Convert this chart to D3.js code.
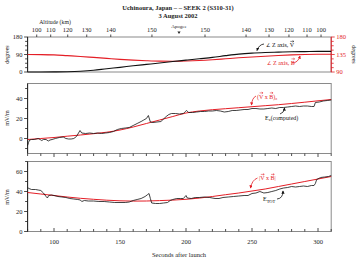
<!DOCTYPE html>
<html><head><meta charset="utf-8">
<script src="https://cdn.jsdelivr.net/npm/d3@7"></script>
<style>
body{margin:0;background:#fff}
svg{display:block}
text{font-family:"Liberation Serif","Times New Roman",serif;fill:#222}
</style>
</head><body>
<svg id="c" width="361" height="259"></svg>
<script>
// ---------- DATA ----------
const titleLines = ["Uchinoura, Japan \u2013 \u2013 SEEK 2 (S310-31)", "3 August 2002"];
const xMajorTicks = [100, 150, 200, 250, 300];
const altLabels = [100, 110, 120, 130, 140, 150, 150, 140, 130, 120, 110, 100];
const altTimes  = [86.9, 97.5, 110.4, 124.8, 143, 174.2, 214.4, 245.5, 262.9, 278, 291.7, 302.3];
const apogeeTime = 194.7;

// panel 1: angle between Z axis and V (left axis, degrees)
const angleV = [[80,0],[90,0],[100,0.5],[110,1.5],[120,4],[130,9],[140,17],[150,24],[160,32],[170,39],[180,46],[190,54],[200,61],[210,68],[220,75],[230,84],[240,92],[250,97],[260,100],[270,102],[280,104],[290,105],[300,106],[310,106]];
// panel 1: angle between Z axis and B (right axis, degrees)
const angleB = [[80,135],[90,134.8],[100,134],[110,132],[120,130],[130,127.5],[140,125],[150,122.5],[160,120.5],[170,119],[180,118],[190,117.8],[200,118.3],[210,119.5],[220,121.5],[230,124],[240,126.5],[250,128.5],[260,130.5],[270,132.5],[280,134],[290,135],[300,135.5],[310,135.8]];

// panel 2: (V x B)z and Ez(computed), mV/m
const vxbZ = [[80,-1],[90,0],[100,1],[110,2.3],[120,3.5],[130,4.8],[140,6.3],[150,8.5],[160,11.5],[170,15],[180,18.5],[190,22],[200,25.5],[210,27.5],[220,28.8],[230,29.8],[240,30.8],[250,31.8],[260,32.8],[270,33.8],[280,35],[290,36.3],[300,37.7],[310,39]];
const ezComputed = [[80,-7],[80.7,-4],[81.5,-1.5],[83,-1],[85,-1],[88,0],[89.5,-1],[90.7,-2],[92,-1],[94,-1],[95.7,-2.5],[97,-1.5],[98.5,-1],[101,0],[104,1],[107,1.5],[109,0],[111,-0.5],[113,-0.5],[115,0],[117,2],[119.7,8],[121,5.5],[124,5],[127,5.5],[130,5],[133,5.5],[136,5],[139,5.5],[142,6],[145,7],[148,9],[151,10],[154,10.5],[157,11],[160,13],[163,15],[166,17],[168,18.5],[170,20],[171.5,23],[173,16.5],[175,16],[178,16.5],[181,17],[183,19.5],[185,22],[187,24],[189,25],[192,25],[195,24.5],[198,25],[199.5,27],[200.5,28],[202,26],[205,26],[208,26.5],[211,27],[214,27],[217,27.5],[220,27.5],[223,28],[226,27.5],[229,26.5],[232,27],[235,28],[238,28],[241,28.5],[244,29],[247,29],[250,30],[253,30],[256,29.5],[259,29.5],[262,30],[265,30.5],[268,30],[271,31],[274,31],[277,31.5],[280,32],[283,32.5],[286,32],[289,32.5],[292,32.5],[295,32],[297,32],[298,36],[301,36.5],[304,37.5],[307,38],[310,38.5]];

// panel 3: |V x B| and E_TOT, mV/m
const vxbAbs = [[80,39],[90,37.5],[100,36],[110,34.5],[120,33.2],[130,32.2],[140,31.3],[150,30.7],[160,30.4],[170,30.5],[180,30.9],[190,31.4],[200,32.2],[210,33.4],[220,35],[230,36.8],[240,38.5],[250,40.5],[260,42.5],[270,45],[280,47.5],[290,50],[300,52.5],[310,55]];
const eTot = [[80,44],[81,43],[83,42],[86,42],[88,41.5],[90,41],[92,38.5],[94,35],[95,33.5],[96,36],[98,36.5],[100,36],[103,35],[106,34.5],[109,34],[112,33],[115,32.5],[118,32],[120,31.5],[121,30],[123,31],[126,30.5],[130,30.5],[134,30],[138,30],[142,29.5],[146,29],[150,29],[154,29],[157,29.5],[160,31],[163,32],[166,33],[169,35],[171,37],[172,38],[173,33],[174,28.5],[177,28],[180,28],[183,28.5],[186,29],[188,31],[190,32],[193,33],[196,33],[198,33],[200,36],[201,33.5],[204,33],[207,34],[210,34],[214,34.5],[218,34],[222,33],[225,33],[228,34],[232,34.5],[236,35],[240,35.5],[244,36],[247,36],[250,38],[253,38.5],[256,40],[259,38.5],[262,39],[265,40],[268,41],[271,42.5],[274,43.5],[277,44],[280,45],[283,44.5],[286,45],[289,45.5],[292,45],[295,46],[297,46],[298,48],[299,52],[302,54],[305,54.5],[308,55],[310,56]];

// ---------- CHART ----------
const RED = "#e41e26";
const svg = d3.select("#c");
const x = d3.scaleLinear().domain([80, 310]).range([27.6, 331.2]);
const L = x.range()[0], R = x.range()[1];

const yA  = d3.scaleLinear().domain([0, 180]).range([72, 37]);
const yAr = d3.scaleLinear().domain([90, 180]).range([72, 37]);
const y2  = d3.scaleLinear().domain([-15, 55]).range([153.5, 83.5]);
const y3  = d3.scaleLinear().domain([0, 70]).range([231.5, 161.5]);

svg.selectAll("text.title").data(titleLines).join("text")
  .attr("x", 178).attr("y", (d, i) => 10 + i * 7.5)
  .attr("text-anchor", "middle").attr("font-size", 6.5).attr("font-weight", "bold").text(d => d);

function frame(ys) {
  const [b, t] = ys.range();
  svg.append("rect").attr("x", L).attr("y", t).attr("width", R - L).attr("height", b - t)
    .attr("fill", "none").attr("stroke", "#8a8a8a").attr("stroke-width", 1);
}
function leftAxis(ys, major, minorStep) {
  const g = svg.append("g").attr("transform", `translate(${L},0)`);
  const d = ys.domain();
  const minors = d3.range(Math.ceil(d[0] / minorStep) * minorStep, d[1] + 0.001, minorStep);
  g.selectAll("line.mi").data(minors).join("line")
    .attr("x1", 0).attr("x2", d => major.includes(d) ? -3.5 : -2.5)
    .attr("y1", d => ys(d)).attr("y2", d => ys(d)).attr("stroke", "#222").attr("stroke-width", 0.8);
  g.selectAll("text").data(major).join("text")
    .attr("x", -5).attr("y", d => ys(d) + 2.2).attr("text-anchor", "end")
    .attr("font-size", 6.5).text(d => d);
  g.append("line").attr("y1", ys.range()[0]).attr("y2", ys.range()[1]).attr("stroke", "#222").attr("stroke-width", 1);
}
function bottomTicks(yb, dir) {
  const ticks = d3.range(80, 311, 10);
  svg.append("g").selectAll("line").data(ticks).join("line")
    .attr("x1", d => x(d)).attr("x2", d => x(d))
    .attr("y1", yb).attr("y2", d => yb + dir * (d % 50 === 0 ? 3.5 : 2.5))
    .attr("stroke", "#222").attr("stroke-width", 0.8);
}
function yLabel(text, xPos, yPos, rot, color) {
  svg.append("text").attr("transform", `translate(${xPos},${yPos}) rotate(${rot})`)
    .attr("text-anchor", "middle").attr("font-size", 6).style("fill", color || "#222").text(text);
}
const lineSmooth = (ys) => d3.line().x(d => x(d[0])).y(d => ys(d[1])).curve(d3.curveMonotoneX);
const lineRaw = (ys) => d3.line().x(d => x(d[0])).y(d => ys(d[1]));

// ----- Panel 1 -----
frame(yA);
leftAxis(yA, [0, 90, 180], 22.5);
{
  const g = svg.append("g").attr("transform", `translate(${R},0)`);
  const minors = d3.range(90, 180.01, 11.25);
  g.selectAll("line").data(minors).join("line")
    .attr("x1", 0).attr("x2", d => [90, 135, 180].includes(d) ? 3.5 : 2.5)
    .attr("y1", d => yAr(d)).attr("y2", d => yAr(d)).attr("stroke", RED).attr("stroke-width", 0.8);
  g.selectAll("text").data([90, 135, 180]).join("text")
    .attr("x", 5).attr("y", d => yAr(d) + 2.2).attr("font-size", 6.5).style("fill", RED).text(d => d);
  g.append("line").attr("y1", 37).attr("y2", 72).attr("stroke", RED).attr("stroke-width", 1);
}
yLabel("degrees", 9, 54.5, -90);
yLabel("degrees", 352, 54.5, 90);
svg.append("g").selectAll("line").data(altTimes).join("line")
  .attr("x1", d => x(d)).attr("x2", d => x(d)).attr("y1", 37).attr("y2", 34.5)
  .attr("stroke", "#222").attr("stroke-width", 0.8);
svg.append("g").selectAll("text").data(altTimes).join("text")
  .attr("x", d => x(d)).attr("y", 32).attr("text-anchor", "middle").attr("font-size", 6.5)
  .text((d, i) => altLabels[i]);
svg.append("text").attr("x", 55).attr("y", 24).attr("text-anchor", "middle").attr("font-size", 5.8).text("Altitude (km)");
svg.append("text").attr("x", x(apogeeTime)).attr("y", 28).attr("text-anchor", "middle").attr("font-size", 5).text("Apogee");
svg.append("path").attr("d", `M${x(apogeeTime) - 1.6},31.5 L${x(apogeeTime) + 1.6},31.5 L${x(apogeeTime)},34 Z`).attr("fill", "#222");

svg.append("path").datum(angleB).attr("d", lineSmooth(yAr)).attr("fill", "none").attr("stroke", RED).attr("stroke-width", 1.1);
svg.append("path").datum(angleV).attr("d", lineSmooth(yA)).attr("fill", "none").attr("stroke", "#111").attr("stroke-width", 1.1);

// ----- Panel 2 -----
frame(y2);
leftAxis(y2, [0, 20, 40], 10);
bottomTicks(y2.range()[0], 1);
yLabel("mV/m", 9, 118, -90);
svg.append("path").datum(vxbZ).attr("d", lineSmooth(y2)).attr("fill", "none").attr("stroke", RED).attr("stroke-width", 1);
svg.append("path").datum(ezComputed).attr("d", lineRaw(y2)).attr("fill", "none").attr("stroke", "#111").attr("stroke-width", 0.8);

// ----- Panel 3 -----
frame(y3);
leftAxis(y3, [0, 20, 40, 60], 10);
bottomTicks(y3.range()[0], -1);
yLabel("mV/m", 9, 197, -90);
svg.append("path").datum(vxbAbs).attr("d", lineSmooth(y3)).attr("fill", "none").attr("stroke", RED).attr("stroke-width", 1);
svg.append("path").datum(eTot).attr("d", lineRaw(y3)).attr("fill", "none").attr("stroke", "#111").attr("stroke-width", 0.8);
svg.append("g").selectAll("text").data(xMajorTicks).join("text")
  .attr("x", d => x(d)).attr("y", 244).attr("text-anchor", "middle").attr("font-size", 6.5).text(d => d);
svg.append("text").attr("x", 179).attr("y", 256.5).attr("text-anchor", "middle").attr("font-size", 6.5).text("Seconds after launch");

// ----- annotations -----
const defs = svg.append("defs");
[["ahK", "#111"], ["ahR", RED]].forEach(([id, c]) => {
  defs.append("marker").attr("id", id).attr("viewBox", "0 0 6 6").attr("refX", 5).attr("refY", 3)
    .attr("markerWidth", 4).attr("markerHeight", 4).attr("orient", "auto")
    .append("path").attr("d", "M0,0 L6,3 L0,6 Z").attr("fill", c);
});
function arrow(d, c, m) {
  svg.append("path").attr("d", d).attr("fill", "none").attr("stroke", c).attr("stroke-width", 0.8).attr("marker-end", `url(#${m})`);
}
// parts: {t, sub, up, vec, sym}
function label(xp, yp, parts, c) {
  const t = svg.append("text").attr("x", xp).attr("y", yp).attr("font-size", 6).style("fill", c);
  const vecIdx = [];
  let idx = 0;
  parts.forEach(p => {
    const s = t.append("tspan").text(p.t).style("fill", c);
    if (p.sub) s.attr("font-size", 4.5).attr("dy", 1.5);
    if (p.up) s.attr("dy", -1.5);
    if (p.sym) s.style("font-family", "DejaVu Sans").attr("font-size", 5);
    if (p.vec) vecIdx.push(idx);
    idx += p.t.length;
  });
  const node = t.node();
  vecIdx.forEach(i => {
    const b = node.getExtentOfChar(i);
    const yy = b.y - 0.6, x0 = b.x + 0.6, x1 = b.x + b.width - 0.2;
    svg.append("path").attr("d", `M${x0},${yy} L${x1},${yy} M${x1 - 1.3},${yy - 0.9} L${x1},${yy} L${x1 - 1.3},${yy + 0.9}`)
      .attr("fill", "none").attr("stroke", c).attr("stroke-width", 0.5);
  });
}
// panel 1
label(266, 47, [{t: "\u2220", sym: true}, {t: " Z axis, "}, {t: "V", vec: true}], "#111");
arrow("M264,44 Q259,44.5 257,50.5", "#111", "ahK");
label(267, 64.5, [{t: "\u2220", sym: true}, {t: " Z axis, "}, {t: "B", vec: true}], RED);
arrow("M292,63 Q298,63 300,56", RED, "ahR");
// panel 2
label(257, 98.5, [{t: "("}, {t: "V", vec: true}, {t: " x "}, {t: "B", vec: true}, {t: ")"}, {t: "z", sub: true}], RED);
arrow("M256,96 Q252,98 251.5,105", RED, "ahR");
label(265, 119.5, [{t: "E"}, {t: "z", sub: true}, {t: "(computed)", up: true}], "#111");
arrow("M280,114 Q284,113 284.5,108", "#111", "ahK");
// panel 3
label(259, 180, [{t: "|"}, {t: "V", vec: true}, {t: " x "}, {t: "B", vec: true}, {t: "|"}], RED);
arrow("M257.5,178 Q252,180 250.5,188", RED, "ahR");
label(263, 201, [{t: "E"}, {t: "TOT", sub: true}], "#111");
arrow("M277,199 Q283,198.5 283,191", "#111", "ahK");
</script>
</body></html>
